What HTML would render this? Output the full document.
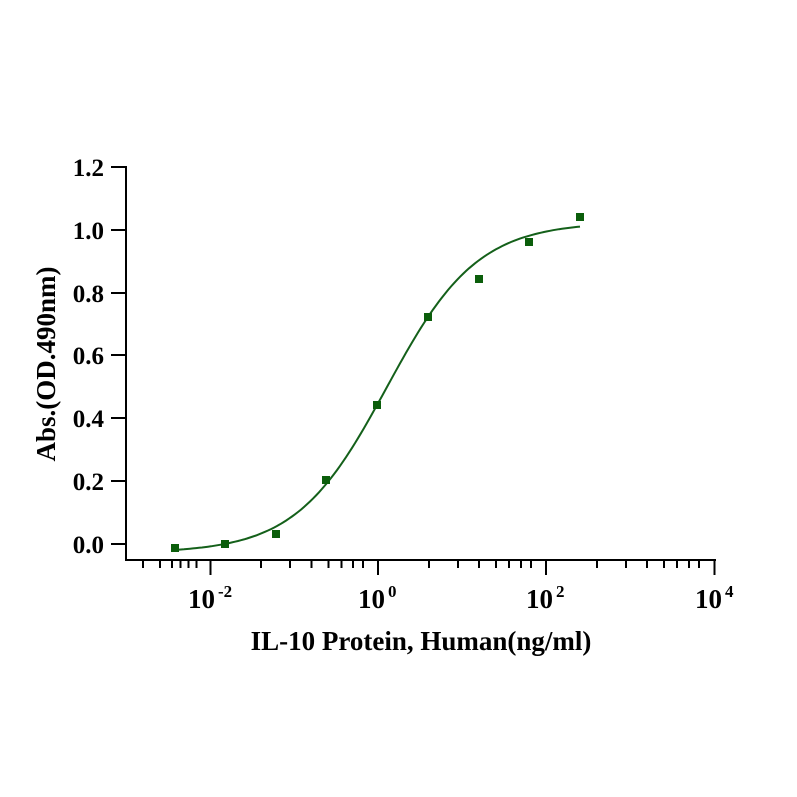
<!DOCTYPE html>
<html><head><meta charset="utf-8"><style>body{margin:0;background:#fff}svg{display:block}</style></head>
<body>
<svg width="797" height="797" viewBox="0 0 797 797" xmlns="http://www.w3.org/2000/svg" font-family="Liberation Serif, serif" font-weight="bold">
<g stroke="#000" stroke-width="2" fill="none">
<line x1="126" y1="166" x2="126" y2="561"/>
<line x1="125" y1="560" x2="716" y2="560"/>
<line x1="111" y1="167" x2="126" y2="167"/>
<line x1="111" y1="230" x2="126" y2="230"/>
<line x1="111" y1="293" x2="126" y2="293"/>
<line x1="111" y1="355" x2="126" y2="355"/>
<line x1="111" y1="418" x2="126" y2="418"/>
<line x1="111" y1="481" x2="126" y2="481"/>
<line x1="111" y1="544" x2="126" y2="544"/>
<line x1="210.5" y1="560" x2="210.5" y2="575"/>
<line x1="378" y1="560" x2="378" y2="575"/>
<line x1="546" y1="560" x2="546" y2="575"/>
<line x1="714.5" y1="560" x2="714.5" y2="575"/>
</g>
<g stroke="#000" stroke-width="2">
<line x1="143" y1="560" x2="143" y2="568"/><line x1="160" y1="560" x2="160" y2="568"/><line x1="172" y1="560" x2="172" y2="568"/><line x1="180.5" y1="560" x2="180.5" y2="568"/><line x1="188.5" y1="560" x2="188.5" y2="568"/><line x1="196.5" y1="560" x2="196.5" y2="568"/>
<line x1="261" y1="560" x2="261" y2="568"/><line x1="290" y1="560" x2="290" y2="568"/><line x1="311.5" y1="560" x2="311.5" y2="568"/><line x1="328.5" y1="560" x2="328.5" y2="568"/><line x1="341.5" y1="560" x2="341.5" y2="568"/><line x1="353" y1="560" x2="353" y2="568"/><line x1="363" y1="560" x2="363" y2="568"/>
<line x1="429" y1="560" x2="429" y2="568"/><line x1="458" y1="560" x2="458" y2="568"/><line x1="479" y1="560" x2="479" y2="568"/><line x1="496" y1="560" x2="496" y2="568"/><line x1="509" y1="560" x2="509" y2="568"/><line x1="521" y1="560" x2="521" y2="568"/><line x1="531" y1="560" x2="531" y2="568"/>
<line x1="597" y1="560" x2="597" y2="568"/><line x1="626" y1="560" x2="626" y2="568"/><line x1="647" y1="560" x2="647" y2="568"/><line x1="664" y1="560" x2="664" y2="568"/><line x1="677" y1="560" x2="677" y2="568"/><line x1="689" y1="560" x2="689" y2="568"/><line x1="699" y1="560" x2="699" y2="568"/>
</g>
<g font-size="25" text-anchor="end" fill="#000">
<text x="104" y="176">1.2</text><text x="104" y="239">1.0</text><text x="104" y="302">0.8</text><text x="104" y="364">0.6</text><text x="104" y="427">0.4</text><text x="104" y="490">0.2</text><text x="104" y="553">0.0</text>
</g>
<g font-size="27" fill="#000">
<text x="188" y="608">10<tspan font-size="17" dy="-11" dx="3">-2</tspan></text>
<text x="358" y="608">10<tspan font-size="17" dy="-11" dx="3">0</tspan></text>
<text x="526" y="608">10<tspan font-size="17" dy="-11" dx="3">2</tspan></text>
<text x="695" y="608">10<tspan font-size="17" dy="-11" dx="3">4</tspan></text>
</g>
<text x="421" y="650" font-size="27" text-anchor="middle">IL-10 Protein, Human(ng/ml)</text>
<text transform="translate(55,364) rotate(-90)" font-size="27" text-anchor="middle">Abs.(OD.490nm)</text>
<path id="curve" fill="none" stroke="#14601a" stroke-width="2" d=""/>
<g fill="#0b5e0b">
<rect x="171" y="544" width="8" height="8"/><rect x="221" y="540" width="8" height="8"/><rect x="272" y="530" width="8" height="8"/><rect x="322" y="476" width="8" height="8"/><rect x="373" y="401" width="8" height="8"/><rect x="424" y="313" width="8" height="8"/><rect x="475" y="275" width="8" height="8"/><rect x="525" y="238" width="8" height="8"/><rect x="576" y="213" width="8" height="8"/>
</g>
<script>
var d="";for(var x=175;x<=580;x+=3){var y=553-331/(1+Math.pow(10,(386.7-x)/104.4));d+=(x==175?"M":"L")+x+","+y.toFixed(1);}
document.getElementById("curve").setAttribute("d",d);
</script>
</svg>
</body></html>
